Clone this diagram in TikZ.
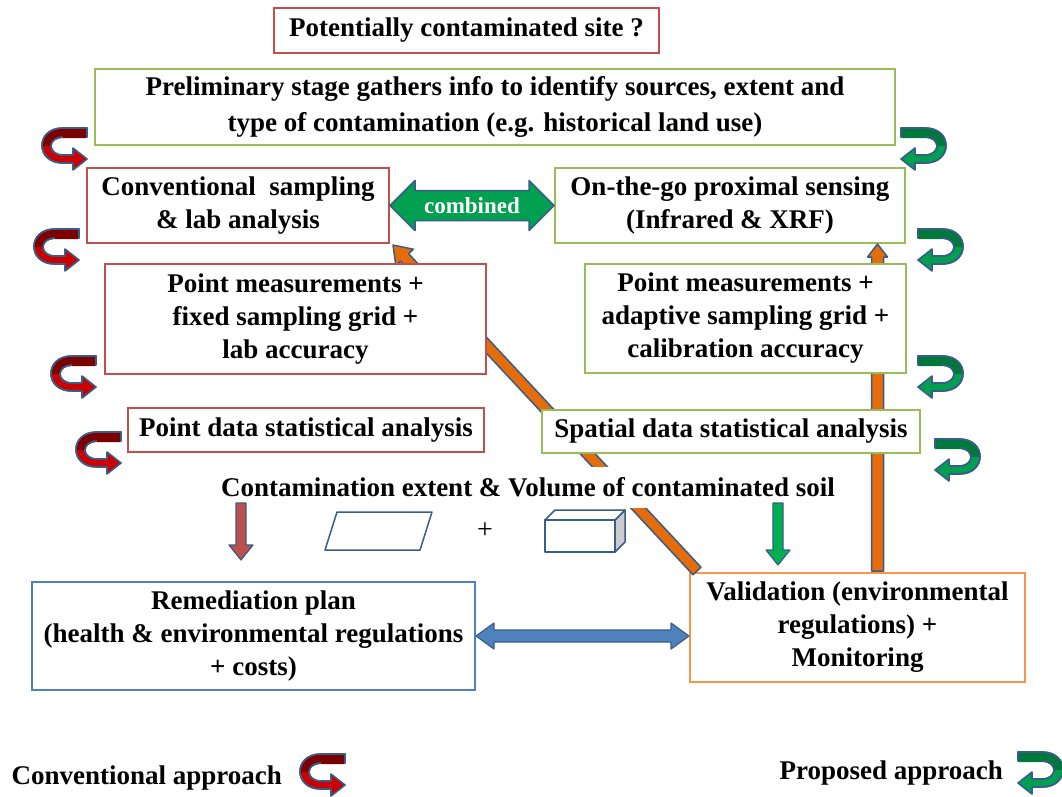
\documentclass[tikz,border=0pt]{standalone}
\usepackage{fontspec}
\setmainfont{Liberation Serif}
\usetikzlibrary{calc}
\definecolor{boxred}{RGB}{192,80,77}
\definecolor{boxgreen}{RGB}{155,187,89}
\definecolor{boxblue}{RGB}{79,129,189}
\definecolor{boxorange}{RGB}{247,150,70}
\definecolor{outl}{RGB}{56,93,138}
\definecolor{orfill}{RGB}{228,108,10}
\definecolor{grfill}{RGB}{0,160,80}
\definecolor{grdark}{RGB}{0,120,60}
\definecolor{rdfill}{RGB}{205,0,0}
\definecolor{rddark}{RGB}{125,0,0}
\definecolor{downred}{RGB}{192,80,77}
\definecolor{downgreen}{RGB}{0,176,80}
\newcommand\fatarrow[6]{%
  \coordinate (fas) at (#2); \coordinate (fae) at (#3);
  \coordinate (fab) at ($(fae)!#6!(fas)$);
  \path[#1] ($(fas)!#4!90:(fab)$) -- ($(fab)!#4!-90:(fas)$) -- ($(fab)!#5!-90:(fas)$) -- (fae)
    -- ($(fab)!#5!90:(fas)$) -- ($(fab)!#4!90:(fas)$) -- ($(fas)!#4!-90:(fab)$) -- cycle;}
\newcommand\dblarrow[6]{%
  \coordinate (daa) at (#2); \coordinate (dab) at (#3);
  \coordinate (da1) at ($(daa)!#6!(dab)$); \coordinate (da2) at ($(dab)!#6!(daa)$);
  \path[#1] (daa) -- ($(da1)!#5!90:(dab)$) -- ($(da1)!#4!90:(dab)$) -- ($(da2)!#4!-90:(daa)$)
    -- ($(da2)!#5!-90:(daa)$) -- (dab) -- ($(da2)!#5!90:(daa)$) -- ($(da2)!#4!90:(daa)$)
    -- ($(da1)!#4!-90:(dab)$) -- ($(da1)!#5!-90:(dab)$) -- cycle;}
\tikzset{
  bigtext/.style={font=\fontsize{27}{33}\selectfont\bfseries},
  box/.style={draw, line width=2pt, fill=white, align=center, inner sep=0pt, bigtext},
  rbox/.style={box, draw=boxred},
  gbox/.style={box, draw=boxgreen},
  bbox/.style={box, draw=boxblue},
  obox/.style={box, draw=boxorange},
  fat/.style={draw=outl, line width=1.5pt, line join=round},
  turnpath/.style={draw=outl, line width=1.6pt, line join=round},
  turnshape/.pic={
    \path[turnpath, fill=#1] (22,-21) -- (-2,-21) .. controls (-30,-21) and (-30,14) .. (-2,14)
      -- (8,14) -- (8,21) -- (22,10) -- (8,-1) -- (8,6) -- (-2,6)
      .. controls (-18,6) and (-18,-12) .. (-2,-12) -- (22,-12) -- cycle;},
  turndark/.pic={
    \path[fill=#1] (21,-20) -- (-2,-20) .. controls (-17,-20) and (-22,-12) .. (-23,-3)
      -- (-14,-3) .. controls (-13,-8) and (-9,-11) .. (-2,-11) -- (21,-11) -- cycle;
    \path[turnpath] (22,-12) -- (22,-21) -- (-2,-21) .. controls (-30,-21) and (-30,14) .. (-2,14);
    \path[turnpath] (-2,-12) .. controls (-18,-12) and (-18,6) .. (-2,6);},
  redturn/.pic={\pic {turnshape=rdfill}; \pic {turndark=rddark};},
  greenturn/.pic={\pic[xscale=-1] {turnshape=grfill}; \pic[xscale=-1] {turndark=grdark};},
}
\begin{document}
\begin{tikzpicture}[x=1pt,y=-1pt]
\useasboundingbox[fill=white] (0,0) rectangle (1062,796);

% nodes that the orange connectors join (connectors drawn before the covering boxes)
\node[obox, minimum width=335pt, minimum height=109pt] (val) at (857.5,627.5)
  {Validation (environmental\\regulations) +\\Monitoring};
\node[rbox, minimum width=302pt, minimum height=75pt] (conv) at (238,205.5)
  {Conventional\ \ sampling\\\& lab analysis};
\node[gbox, minimum width=350pt, minimum height=75pt] (otg) at (730,205.5)
  {On-the-go proximal sensing\\(Infrared \& XRF)};

\coordinate (dstart) at ($(val.north west)+(8,-1)$);
\coordinate (dend) at ($(conv.south east)+(3,1)$);
\coordinate (vstart) at ($(val.north)+(20,-1)$);
\fatarrow{fat, fill=orfill}{dstart}{dend}{5.5pt}{12pt}{17pt}
\fatarrow{fat, fill=orfill}{vstart}{vstart |- otg.south}{6pt}{10pt}{13pt}

\node[rbox, minimum width=385pt, minimum height=45pt] (pot) at (466.5,30.5)
  {Potentially contaminated site ?};
\node[gbox, minimum width=800pt, minimum height=76pt, font=\fontsize{27}{36}\selectfont\bfseries] (pre) at (495,107)
  {Preliminary stage gathers info to identify sources, extent and\\type of contamination (e.g. historical land use)};
\node[rbox, minimum width=381pt, minimum height=110pt] (pmf) at (295.5,319)
  {Point measurements +\\fixed sampling grid +\\lab accuracy};
\node[gbox, minimum width=321pt, minimum height=109pt] (pma) at (745.5,318.5)
  {Point measurements +\\adaptive sampling grid +\\calibration accuracy};
\node[rbox, minimum width=356pt, minimum height=44pt] (pds) at (306,430)
  {Point data statistical analysis};
\node[gbox, minimum width=378pt, minimum height=43pt] (sds) at (731,431.5)
  {Spatial data statistical analysis};
\node[fill=white, inner xsep=3pt, inner ysep=0pt, minimum height=41pt, bigtext] (cext) at (528,487)
  {Contamination extent \& Volume of contaminated soil};
\node[bbox, minimum width=443pt, minimum height=108pt] (rem) at (253.5,636)
  {Remediation plan\\(health \& environmental regulations\\+ costs)};

% combined double arrow
\dblarrow{fat, fill=grfill}{conv.east}{otg.west}{15pt}{25pt}{25pt}
\node[text=white, font=\fontsize{23}{26}\selectfont\bfseries] (comb) at ($(conv.east)!0.5!(otg.west)$) {combined};

% blue double arrow
\dblarrow{fat, line width=1.2pt, fill=boxblue}{rem.east}{rem.east -| val.west}{6pt}{13pt}{18pt}

% down arrows
\coordinate (rdtop) at (241,503);
\coordinate (rdbot) at (241,560);
\coordinate (gdtop) at (778,503);
\coordinate (gdbot) at (778,565);
\fatarrow{fat, line width=1.2pt, fill=downred}{rdtop}{rdbot}{5pt}{12pt}{15pt}
\fatarrow{fat, line width=1.2pt, fill=downgreen}{gdtop}{gdbot}{5pt}{12pt}{15pt}

% area and volume symbols
\draw[outl, line width=1.5pt, line join=round] (325,550) -- (337,512) -- (432,512) -- (420,550) -- cycle;
\node[font=\fontsize{28}{30}\selectfont] (plus) at (485,531) {+};
\draw[outl, line width=1.5pt, line join=round, fill=black!20] (615,520) -- (625,510) -- (625,542) -- (615,552) -- cycle;
\draw[outl, line width=1.5pt, line join=round, fill=white] (545,520) -- (555,510) -- (625,510) -- (615,520) -- cycle;
\draw[outl, line width=1.5pt, line join=round, fill=white] (545,520) rectangle (615,552);

% u-turn arrows: conventional (left) and proposed (right)
\pic at (65,149) {redturn};
\pic at (57,250) {redturn};
\pic at (74,377) {redturn};
\pic at (99,453) {redturn};
\pic at (923,149) {greenturn};
\pic at (940,250) {greenturn};
\pic at (940,377) {greenturn};
\pic at (957,460) {greenturn};

% legend
\node[anchor=west, bigtext] (leg1) at (8,778) {Conventional approach};
\pic at (323,775) {redturn};
\node[anchor=west, bigtext] (leg2) at (776,773) {Proposed approach};
\pic at (1040,773) {greenturn};
\end{tikzpicture}
\end{document}
